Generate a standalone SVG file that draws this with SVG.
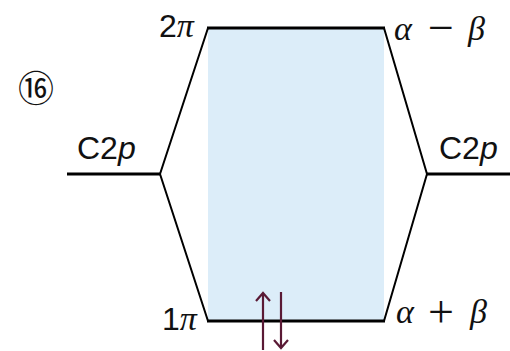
<svg xmlns="http://www.w3.org/2000/svg" width="510" height="351" viewBox="0 0 510 351">
<style>
.lv{stroke:#000;stroke-width:3.2;fill:none}
.cn{stroke:#000;stroke-width:2;fill:none}
.t{font-family:"Liberation Sans",Arial,sans-serif;font-size:32px;fill:#111}
.g{font-family:"Liberation Serif","Times New Roman",serif;font-style:italic;font-size:34px;fill:#111}
.s{font-family:"Liberation Serif","Times New Roman",serif;font-size:46px;fill:#111}
.e{stroke:#5a1a35;stroke-width:2.2;fill:none}
</style>
<rect x="208" y="28" width="176" height="293" fill="#dcedf9"/>
<g id="connectors">
<path class="cn" d="M160,174 L208,28 M160,174 L208,321 M427,174 L384,28 M427,174 L384,321"/>
</g>
<g id="level-2pi">
<line class="lv" x1="207" y1="28" x2="385" y2="28"/>
<text class="t" x="159" y="37">2<tspan class="g" font-size="32">π</tspan></text>
<text class="g" x="394" y="40">α</text>
<text class="s" x="428" y="43">−</text>
<text class="g" x="468" y="40">β</text>
</g>
<g id="level-1pi">
<line class="lv" x1="207" y1="321" x2="385" y2="321"/>
<text class="t" x="162" y="330">1<tspan class="g" font-size="32">π</tspan></text>
<text class="g" x="396" y="323">α</text>
<text class="s" x="428" y="327">+</text>
<text class="g" x="470" y="323">β</text>
</g>
<g id="c2p-left">
<line class="lv" x1="67" y1="174" x2="161" y2="174"/>
<text class="t" x="77" y="159">C2<tspan font-style="italic">p</tspan></text>
</g>
<g id="c2p-right">
<line class="lv" x1="426" y1="174" x2="510" y2="174"/>
<text class="t" x="439" y="159">C2<tspan font-style="italic">p</tspan></text>
</g>
<g id="label-16">
<text x="36" y="102" text-anchor="middle" style="font-family:'Noto Sans CJK JP','DejaVu Sans',sans-serif;font-size:36px;fill:#111">⑯</text>
</g>
<g id="electrons">
<path class="e" d="M263,350 V293 M256,301 L263,293 L270,301"/>
<path class="e" d="M281,292 V348 M274,340 L281,348 L288,340"/>
</g>
</svg>
